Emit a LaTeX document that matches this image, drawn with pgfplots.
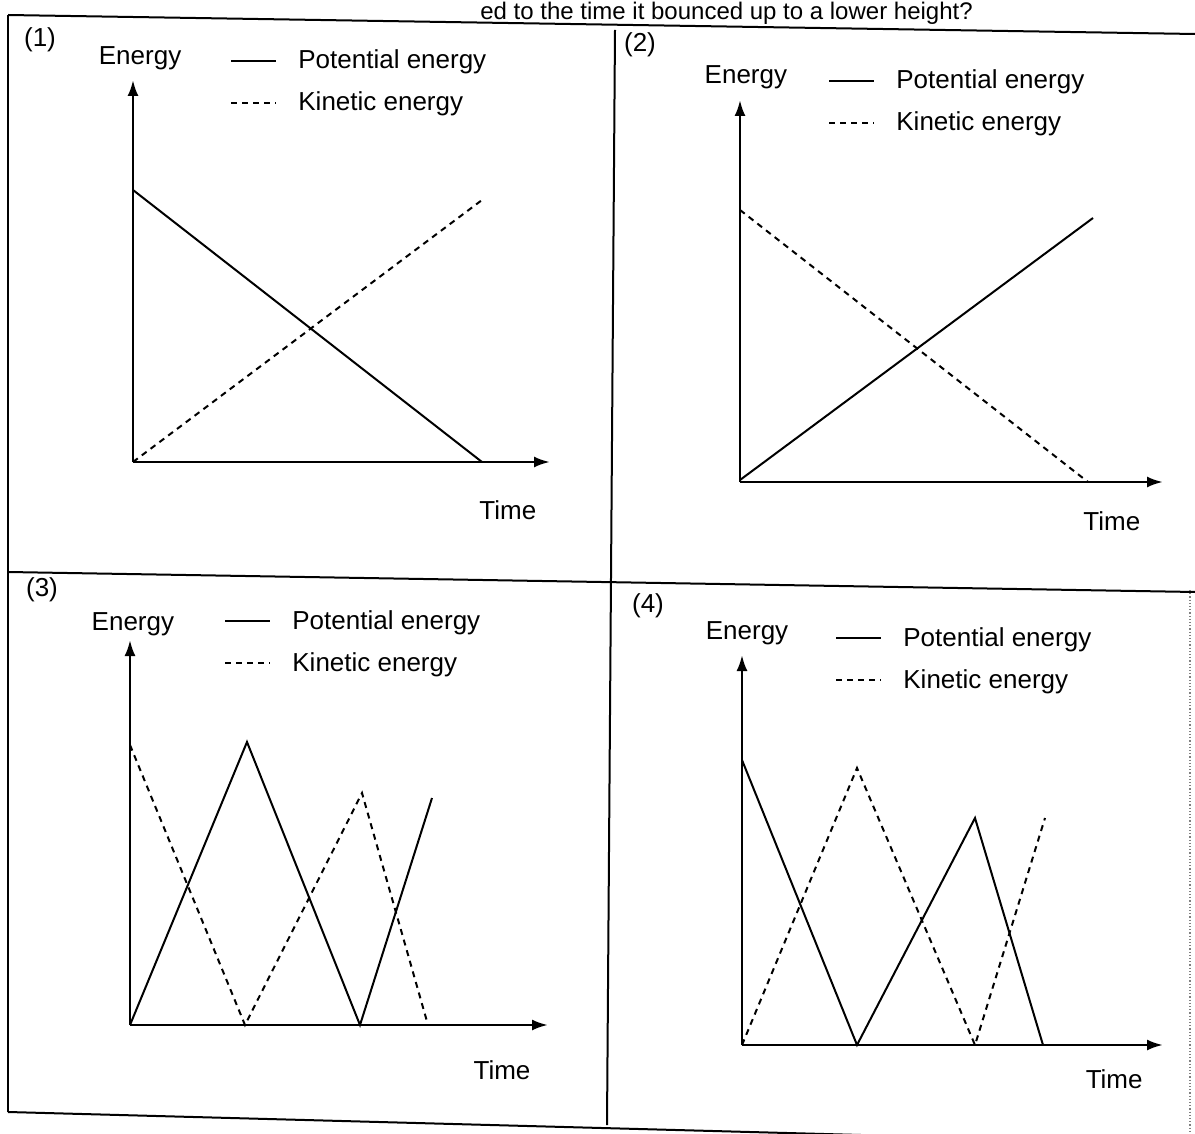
\documentclass[border=0pt]{standalone}
\usepackage{fontspec}
\setmainfont{Liberation Sans}
\usepackage{pgfplots}
\pgfplotsset{compat=1.18}
\usetikzlibrary{arrows.meta}
\newcommand{\fs}{\fontsize{13}{15}\selectfont}
\pgfplotsset{
  panel/.style={
    x=0.5pt, y=0.5pt,
    anchor=south west,
    axis lines=left,
    axis line style={line width=1.3pt, -{Latex[length=8pt,width=5.5pt]}},
    xtick=\empty, ytick=\empty,
    xmin=0, ymin=0,
    clip=false,
    label style={font=\fs},
    ylabel style={rotate=-90, anchor=center},
    xlabel style={anchor=center},
    legend cell align=left,
    legend style={draw=none, fill=none, font=\fs, anchor=west,
      inner sep=0pt, row sep=8pt, column sep=10.5pt,
      nodes={inner sep=0pt, text height=10pt, text depth=3pt}},
    legend image code/.code={\draw[##1] (0pt,0.3pt) -- (22.5pt,0.3pt);},
    every axis plot/.append style={line width=1pt, black},
  },
  pe/.style={solid},
  ke/.style={dash pattern=on 3pt off 2.5pt},
}
\begin{document}
\begin{tikzpicture}
\useasboundingbox (0pt,0pt) rectangle (597.5pt,-567pt);
% frame (scan borders)
\draw[line width=1pt] (4pt,-7.5pt) -- (597.5pt,-17pt);
\draw[line width=1pt] (4pt,-7.5pt) -- (4pt,-556pt);
\draw[line width=1pt] (4pt,-556pt) -- (597.5pt,-572pt);
\draw[line width=1pt] (307.5pt,-15pt) -- (303.5pt,-562.5pt);
\draw[line width=1pt] (4pt,-286pt) -- (597.5pt,-296pt);
\draw[line width=0.6pt, gray, densely dotted] (595pt,-295pt) -- (595pt,-567pt);
% visible part of the question text
\node[font=\fontsize{12}{14}\selectfont, anchor=base west, inner sep=0pt] at (240pt,-9.8pt)
  {ed to the time it bounced up to a lower height?};
% panel numbers
\node[font=\fs] at (20pt,-20pt) {(1)};
\node[font=\fs] at (320pt,-22.5pt) {(2)};
\node[font=\fs] at (21pt,-295pt) {(3)};
\node[font=\fs] at (324pt,-303pt) {(4)};

% Panel 1
\begin{axis}[panel, at={(66.5pt,-231pt)}, xmax=417, ymax=382,
  xlabel={Time}, xlabel style={at={(axis description cs:0.899,-0.126)}},
  ylabel={Energy}, ylabel style={at={(axis description cs:0.017,1.058)}},
  legend style={at={(axis cs:97,379)}}]
\addplot[pe] coordinates {(0,272) (349,0)};
\addlegendentry{Potential energy}
\addplot[ke] coordinates {(0,0) (349,262)};
\addlegendentry{Kinetic energy}
\end{axis}

% Panel 2
\begin{axis}[panel, at={(370pt,-241pt)}, xmax=423, ymax=382,
  xlabel={Time}, xlabel style={at={(axis description cs:0.879,-0.102)}},
  ylabel={Energy}, ylabel style={at={(axis description cs:0.014,1.060)}},
  legend style={at={(axis cs:88,379)}}]
\addplot[pe] coordinates {(0,2) (353,264)};
\addlegendentry{Potential energy}
\addplot[ke] coordinates {(0,272) (348,0)};
\addlegendentry{Kinetic energy}
\end{axis}

% Panel 3
\begin{axis}[panel, at={(65pt,-512.5pt)}, xmax=418, ymax=385,
  xlabel={Time}, xlabel style={at={(axis description cs:0.89,-0.117)}},
  ylabel={Energy}, ylabel style={at={(axis description cs:0.007,1.042)}},
  legend style={at={(axis cs:94,382)}}]
\addplot[pe] coordinates {(0,0) (117,283) (230,0) (302,227)};
\addlegendentry{Potential energy}
\addplot[ke] coordinates {(0,280) (115,0) (232,232) (298,0)};
\addlegendentry{Kinetic energy}
\end{axis}

% Panel 4
\begin{axis}[panel, at={(371pt,-522.5pt)}, xmax=421, ymax=390,
  xlabel={Time}, xlabel style={at={(axis description cs:0.884,-0.087)}},
  ylabel={Energy}, ylabel style={at={(axis description cs:0.012,1.056)}},
  legend style={at={(axis cs:93,385)}}]
\addplot[pe] coordinates {(0,285) (115,0) (233,227) (301,0)};
\addlegendentry{Potential energy}
\addplot[ke] coordinates {(0,0) (115,277) (233,0) (303,227)};
\addlegendentry{Kinetic energy}
\end{axis}
\end{tikzpicture}
\end{document}
